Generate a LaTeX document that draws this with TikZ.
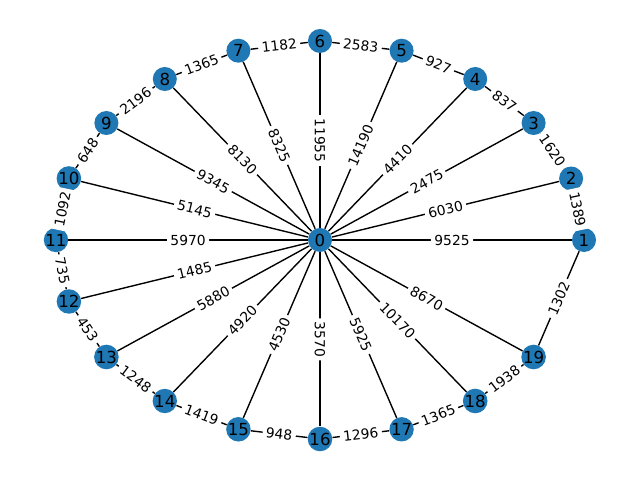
\documentclass[tikz,border=0pt]{standalone}
\usepackage{fontspec}
\setmainfont{DejaVu Sans}
\usepackage{tikz}
\definecolor{nodeblue}{RGB}{31,119,180}
\tikzset{
  vertex/.style={circle, fill=nodeblue, inner sep=0pt, minimum size=6.1mm, font=\fontsize{12}{14}\selectfont},
  wlabel/.style={midway, sloped, fill=white, rounded corners=2pt, inner sep=2.5pt, font=\fontsize{10}{12}\selectfont},
  link/.style={black, line width=1pt}
}

\begin{document}
\begin{tikzpicture}[x=0.254mm, y=0.254mm]
         \useasboundingbox (0,0) rectangle (640,480);
         % hub and ring
         \node[vertex] (n0) at (320,240) {0};
         \node[vertex] (n1) at (584,240) {1};
         \node[vertex] (n2) at (571.1,301.5) {2};
         \node[vertex] (n3) at (533.6,357.0) {3};
         \node[vertex] (n4) at (475.2,401.0) {4};
         \node[vertex] (n5) at (401.6,429.3) {5};
         \node[vertex] (n6) at (320,439) {6};
         \node[vertex] (n7) at (238.4,429.3) {7};
         \node[vertex] (n8) at (164.8,401.0) {8};
         \node[vertex] (n9) at (106.4,357.0) {9};
         \node[vertex] (n10) at (68.9,301.5) {10};
         \node[vertex] (n11) at (56,240) {11};
         \node[vertex] (n12) at (68.9,178.5) {12};
         \node[vertex] (n13) at (106.4,123.0) {13};
         \node[vertex] (n14) at (164.8,79.0) {14};
         \node[vertex] (n15) at (238.4,50.7) {15};
         \node[vertex] (n16) at (320,41) {16};
         \node[vertex] (n17) at (401.6,50.7) {17};
         \node[vertex] (n18) at (475.2,79.0) {18};
         \node[vertex] (n19) at (533.6,123.0) {19};
         % spokes
         \draw[link] (n0) -- (n1) node[wlabel] {9525};
         \draw[link] (n0) -- (n2) node[wlabel] {6030};
         \draw[link] (n0) -- (n3) node[wlabel] {2475};
         \draw[link] (n0) -- (n4) node[wlabel] {4410};
         \draw[link] (n0) -- (n5) node[wlabel] {14190};
         \draw[link] (n6) -- (n0) node[wlabel] {11955};
         \draw[link] (n0) -- (n7) node[wlabel] {8325};
         \draw[link] (n0) -- (n8) node[wlabel] {8130};
         \draw[link] (n0) -- (n9) node[wlabel] {9345};
         \draw[link] (n0) -- (n10) node[wlabel] {5145};
         \draw[link] (n0) -- (n11) node[wlabel] {5970};
         \draw[link] (n0) -- (n12) node[wlabel] {1485};
         \draw[link] (n0) -- (n13) node[wlabel] {5880};
         \draw[link] (n0) -- (n14) node[wlabel] {4920};
         \draw[link] (n0) -- (n15) node[wlabel] {4530};
         \draw[link] (n0) -- (n16) node[wlabel] {3570};
         \draw[link] (n0) -- (n17) node[wlabel] {5925};
         \draw[link] (n0) -- (n18) node[wlabel] {10170};
         \draw[link] (n0) -- (n19) node[wlabel] {8670};
         % ring
         \draw[link] (n1) -- (n2) node[wlabel] {1389};
         \draw[link] (n2) -- (n3) node[wlabel] {1620};
         \draw[link] (n3) -- (n4) node[wlabel] {837};
         \draw[link] (n4) -- (n5) node[wlabel] {927};
         \draw[link] (n5) -- (n6) node[wlabel] {2583};
         \draw[link] (n6) -- (n7) node[wlabel] {1182};
         \draw[link] (n7) -- (n8) node[wlabel] {1365};
         \draw[link] (n8) -- (n9) node[wlabel] {2196};
         \draw[link] (n9) -- (n10) node[wlabel] {648};
         \draw[link] (n10) -- (n11) node[wlabel] {1092};
         \draw[link] (n11) -- (n12) node[wlabel] {735};
         \draw[link] (n12) -- (n13) node[wlabel] {453};
         \draw[link] (n13) -- (n14) node[wlabel] {1248};
         \draw[link] (n14) -- (n15) node[wlabel] {1419};
         \draw[link] (n15) -- (n16) node[wlabel] {948};
         \draw[link] (n16) -- (n17) node[wlabel] {1296};
         \draw[link] (n17) -- (n18) node[wlabel] {1365};
         \draw[link] (n18) -- (n19) node[wlabel] {1938};
         \draw[link] (n19) -- (n1) node[wlabel] {1302};
    \end{tikzpicture}
\end{document}
